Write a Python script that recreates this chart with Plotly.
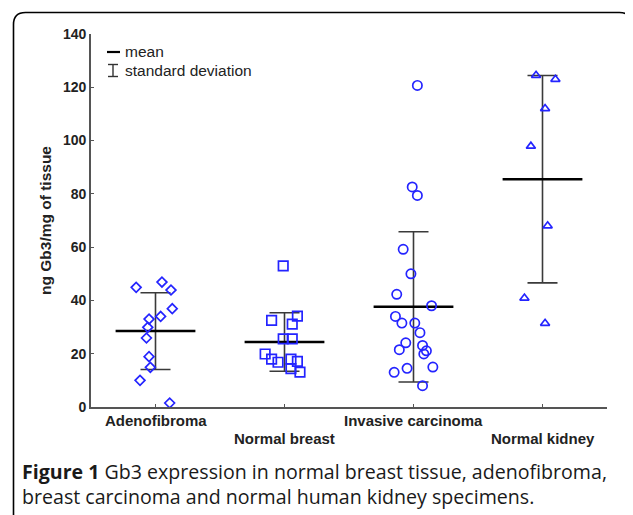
import plotly.graph_objects as go

categories = ["Adenofibroma", "Normal breast", "Invasive carcinoma", "Normal kidney"]
cat_pos = [1, 2, 3, 4]
symbols = ["diamond-open", "square-open", "circle-open", "triangle-up-open"]

# individual measurements (x jitter position, value)
adeno_x = [0.85, 1.05, 1.12, 1.13, 1.04, 0.95, 0.94, 0.93, 0.95, 0.96, 0.88, 1.11]
adeno_y = [44.9, 46.9, 43.9, 36.9, 34.0, 33.0, 29.9, 25.9, 18.9, 14.9, 10.0, 1.5]
breast_x = [1.99, 1.90, 2.10, 2.06, 1.99, 2.06, 1.85, 1.90, 1.95, 2.05, 2.10, 2.05, 2.12]
breast_y = [53.0, 32.5, 34.1, 31.1, 25.6, 25.6, 19.9, 18.0, 16.8, 18.0, 17.1, 14.4, 13.1]
carc_x = [3.03, 2.99, 3.03, 2.92, 2.98, 2.87, 3.14, 2.86, 2.91, 3.01, 3.05, 2.94,
          3.07, 3.10, 3.08, 2.89, 3.15, 2.95, 2.85, 3.07]
carc_y = [120.7, 82.6, 79.4, 59.2, 50.0, 42.3, 38.0, 34.0, 31.5, 31.5, 27.9, 24.1,
          23.1, 21.1, 19.9, 21.5, 15.0, 14.5, 13.0, 8.0]
kidney_x = [3.95, 4.10, 4.02, 3.91, 4.04, 3.86, 4.02]
kidney_y = [124.5, 123.0, 112.0, 97.9, 68.0, 40.9, 31.4]

means = [28.5, 24.4, 37.6, 85.5]
sds = [14.4, 11.0, 28.2, 38.9]

y_ticks = [0, 20, 40, 60, 80, 100, 120, 140]

groups_x = [adeno_x, breast_x, carc_x, kidney_x]
groups_y = [adeno_y, breast_y, carc_y, kidney_y]

BLUE = "#2424ff"
FONT = "Liberation Sans, Arial"
fig = go.Figure()

# error bars (standard deviation)
fig.add_trace(go.Scatter(
    x=cat_pos, y=means, mode="markers",
    marker=dict(size=1, color="rgba(0,0,0,0)"),
    error_y=dict(type="data", array=sds, visible=True, width=15,
                 thickness=1.6, color="#3a3a3a"),
    showlegend=False, hoverinfo="skip"))

# mean lines
fig.add_trace(go.Scatter(
    x=cat_pos, y=means, mode="markers",
    marker=dict(symbol="line-ew", size=57, line=dict(width=2.6, color="black")),
    showlegend=False, hoverinfo="skip"))

sizes = [7.5, 9.5, 9.3, 8]
for gx, gy, sym, sz in zip(groups_x, groups_y, symbols, sizes):
    fig.add_trace(go.Scatter(
        x=gx, y=gy, mode="markers",
        marker=dict(symbol=sym, size=sz, color=BLUE, line=dict(width=1.7, color=BLUE)),
        showlegend=False))

# x category labels, alternating rows
for i, (c, p) in enumerate(zip(categories, cat_pos)):
    fig.add_annotation(x=p, y=0, xref="x", yref="y", text="<b>%s</b>" % c,
                       showarrow=False, yanchor="middle",
                       yshift=-13 if i % 2 == 0 else -31,
                       font=dict(family=FONT, size=15, color="#222"))

# page pixel -> paper coordinates
X0, Y0 = 91, 407
W, H = 516, 373
def px(x):
    return (x - X0) / W
def py(y):
    return (Y0 - y) / H

shapes = []
shapes.append(dict(type="line", xref="paper", yref="paper", x0=px(107), x1=px(120),
                   y0=py(52), y1=py(52), line=dict(color="black", width=2.2)))
shapes.append(dict(type="line", xref="paper", yref="paper", x0=px(113), x1=px(113),
                   y0=py(64.5), y1=py(76.5), line=dict(color="#333", width=1.4)))
shapes.append(dict(type="line", xref="paper", yref="paper", x0=px(108), x1=px(118),
                   y0=py(64.5), y1=py(64.5), line=dict(color="#333", width=1.4)))
shapes.append(dict(type="line", xref="paper", yref="paper", x0=px(108), x1=px(118),
                   y0=py(76.5), y1=py(76.5), line=dict(color="#333", width=1.4)))

# rounded frame around the figure
r = 12
L, R, T, B = 13.5, 631.5, 12.5, 540
path = ("M %f,%f L %f,%f Q %f,%f %f,%f L %f,%f Q %f,%f %f,%f L %f,%f" % (
    px(L), py(B), px(L), py(T + r), px(L), py(T), px(L + r), py(T),
    px(R - r), py(T), px(R), py(T), px(R), py(T + r), px(R), py(B)))
shapes.append(dict(type="path", xref="paper", yref="paper", path=path,
                   line=dict(color="black", width=1.6)))
fig.update_layout(shapes=shapes)

fig.add_annotation(xref="paper", yref="paper", x=px(123), y=py(51), text="mean",
                   showarrow=False, xanchor="left", yanchor="middle",
                   font=dict(family=FONT, size=15.5, color="#222"))
fig.add_annotation(xref="paper", yref="paper", x=px(123), y=py(70.5), text="standard deviation",
                   showarrow=False, xanchor="left", yanchor="middle",
                   font=dict(family=FONT, size=15.5, color="#222"))

# caption
fig.add_annotation(xref="paper", yref="paper", x=px(20), y=py(484),
                   text="<b>Figure 1</b> Gb3 expression in normal breast tissue, adenofibroma,<br>"
                        "breast carcinoma and normal human kidney specimens.",
                   showarrow=False, xanchor="left", yanchor="middle", align="left",
                   font=dict(family="Open Sans", size=19.6, color="#1a1a1a"))

fig.update_xaxes(range=[0.5, 4.5], tickvals=cat_pos, showticklabels=False,
                 ticks="inside", ticklen=3, tickcolor="#555", showgrid=False,
                 zeroline=False, showline=True, linecolor="#555", linewidth=1.6)
fig.update_yaxes(range=[0, 140], tickvals=y_ticks, ticktext=["<b>%d</b>" % v for v in y_ticks],
                 ticks="inside", ticklen=3, tickcolor="#555", showgrid=False,
                 zeroline=False, showline=True, linecolor="#555", linewidth=1.6,
                 tickfont=dict(family=FONT, size=14, color="#222"),
                 title=dict(text="<b>ng Gb3/mg of tissue</b>", standoff=8,
                            font=dict(family=FONT, size=15.5, color="#222")))

# the page body adds an 8px offset, so the figure is 8px smaller than the window
fig.update_layout(width=625, height=507, margin=dict(l=83, r=26, t=26, b=108),
                  plot_bgcolor="white", paper_bgcolor="white")

fig.write_html("out.html")
